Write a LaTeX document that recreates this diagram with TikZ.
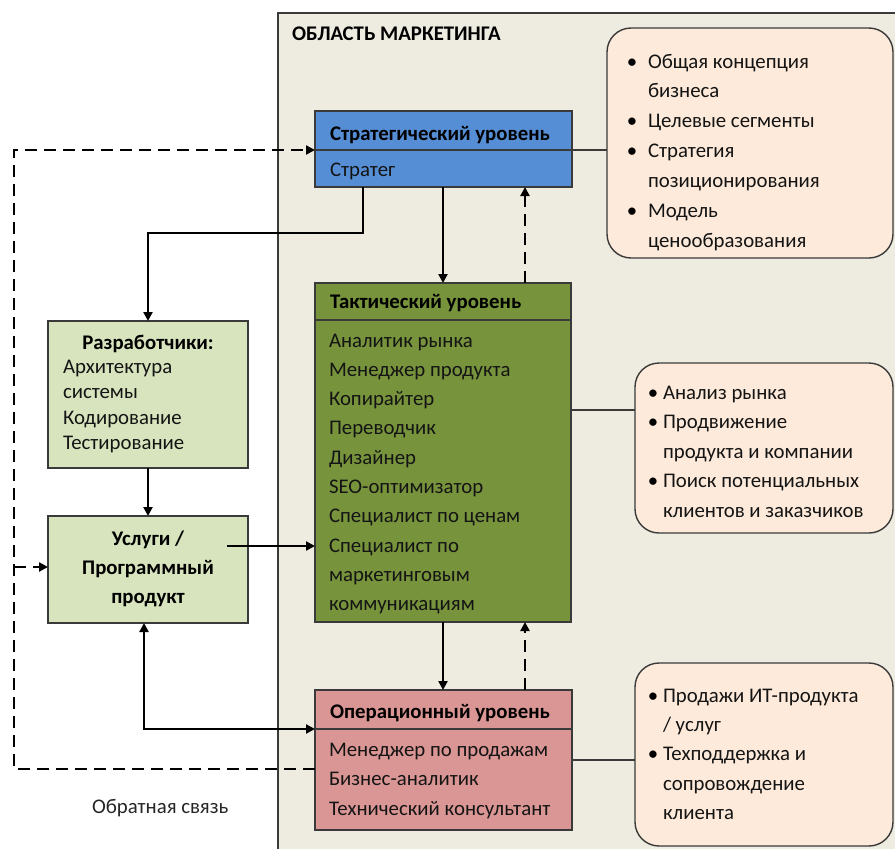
\documentclass[tikz,border=0pt]{standalone}
\usepackage{fontspec}
\setmainfont{Carlito}
\usetikzlibrary{arrows.meta,calc}
\definecolor{areabg}{HTML}{EEECE1}
\definecolor{stratc}{HTML}{558ED5}
\definecolor{tacc}{HTML}{77933C}
\definecolor{opc}{HTML}{DA9694}
\definecolor{devc}{HTML}{D7E4BD}
\definecolor{peach}{HTML}{FDEADA}
\definecolor{edge}{HTML}{3A3A3A}
\begin{document}
\begin{tikzpicture}[x=1pt,y=-1pt,
  every node/.style={inner sep=0pt, outer sep=0pt},
  F/.style={font=\fontsize{20.8}{24}\selectfont},
  FB/.style={font=\fontsize{20.8}{24}\selectfont\bfseries},
  lvl/.style={draw=edge, line width=1.8pt, anchor=north west},
  info/.style={draw=edge, line width=1.4pt, fill=peach, rounded corners=24pt, anchor=north west},
  txt/.style={F, anchor=base west, text=black!92},
  btxt/.style={FB, anchor=base west, text=black},
  bul/.style={F, anchor=base, text=black},
  arr/.style={line width=2.7pt, -{Triangle[length=9pt,width=9pt]}},
  darr/.style={line width=2.7pt, dash pattern=on 12pt off 7pt, -{Triangle[length=9pt,width=9pt]}},
  thin/.style={line width=1.3pt, draw=edge}]
\useasboundingbox (0,0) rectangle (895,849);
\fill[white] (0,0) rectangle (895,849);
% marketing area
\fill[areabg] (278,13) rectangle (895,849);
\draw[line width=1.3pt, draw=edge] (278,849) -- (278,13) -- (895,13);
\node[btxt] (title) at (292,40) {ОБЛАСТЬ МАРКЕТИНГА};

% info boxes
\node[info, minimum width=286pt, minimum height=230pt] (box1) at (607,28) {};
\node[info, minimum width=258pt, minimum height=170pt] (box2) at (635,363) {};
\node[info, minimum width=258pt, minimum height=183pt] (box3) at (635,663) {};

% level boxes
\node[lvl, fill=stratc, minimum width=257pt, minimum height=76pt] (strat) at (315,111) {};
\node[lvl, fill=tacc, minimum width=256pt, minimum height=339pt] (tac) at (315,283) {};
\node[lvl, fill=opc, minimum width=257pt, minimum height=140pt] (op) at (315,690) {};
\node[lvl, fill=devc, minimum width=200pt, minimum height=147pt] (dev) at (48,321) {};
\node[lvl, fill=devc, minimum width=200pt, minimum height=107pt] (serv) at (48,516) {};

% dividers
\coordinate (d1) at (0,150);
\coordinate (d2) at (0,320);
\coordinate (d3) at (0,729);
\draw[thin] (d1 -| strat.west) -- (d1 -| strat.east);
\draw[thin] (d2 -| tac.west) -- (d2 -| tac.east);
\draw[thin] (d3 -| op.west) -- (d3 -| op.east);

% lines to info boxes
\draw[thin] (d1 -| strat.east) -- (d1 -| box1.west);
\coordinate (l2) at (0,410);
\draw[thin] (l2 -| tac.east) -- (l2 -| box2.west);
\coordinate (l3) at (0,760);
\draw[thin] (l3 -| op.east) -- (l3 -| box3.west);

% texts of level boxes
\node[btxt] (st) at (330,140) {Стратегический уровень};
\node[txt] (s1) at (330,176) {Стратег};
\node[btxt] (tt) at (330,308) {Тактический уровень};
\foreach \t [count=\i from 0] in {Аналитик рынка, Менеджер продукта, Копирайтер, Переводчик, Дизайнер, SEO-оптимизатор, Специалист по ценам, Специалист по, маркетинговым, коммуникациям}
  \node[txt] (t\i) at (329,347+\i*29.3) {\t};
\node[btxt] (ot) at (330,718) {Операционный уровень};
\foreach \t [count=\i from 0] in {Менеджер по продажам, Бизнес-аналитик, Технический консультант}
  \node[txt] (o\i) at (329,756+\i*29.5) {\t};

% developers
\node[FB, anchor=base, text=black] (dt) at (148,349) {Разработчики:};
\foreach \t [count=\i from 0] in {Архитектура, системы, Кодирование, Тестирование}
  \node[txt] (dv\i) at (63,373+\i*25.6) {\t};
% services
\foreach \t [count=\i from 0] in {Услуги /, Программный, продукт}
  \node[FB, anchor=base, text=black] (sv\i) at (148,545+\i*29) {\t};

% info box texts
\foreach \t/\b [count=\i from 0] in {Общая концепция/1, бизнеса/0, Целевые сегменты/1, Стратегия/1, позиционирования/0, Модель/1, ценообразования/0}{
  \node[txt] (a\i) at (648,68+\i*29.9) {\t};
  \ifnum\b=1 \node[bul] (ab\i) at (632,68+\i*29.9) {•};\fi
}
\foreach \t/\b [count=\i from 0] in {Анализ рынка/1, Продвижение/1, продукта и компании/0, Поиск потенциальных/1, клиентов и заказчиков/0}{
  \node[txt] (b\i) at (663,399+\i*29.6) {\t};
  \ifnum\b=1 \node[bul] (bb\i) at (653,399+\i*29.6) {•};\fi
}
\foreach \t/\b [count=\i from 0] in {Продажи ИТ-продукта/1, {{/ услуг}}/0, Техподдержка и/1, сопровождение/0, клиента/0}{
  \node[txt] (c\i) at (663,702+\i*29.4) {\t};
  \ifnum\b=1 \node[bul] (cb\i) at (653,702+\i*29.4) {•};\fi
}

\node[F, anchor=base west, text=black!85] (fb) at (92,813) {Обратная связь};

% connectors
\coordinate (k1) at (0,233);
\draw[arr] (strat.south -| 363,0) |- (k1 -| dev.north) -- (dev.north);
\draw[arr] (strat.south -| 443,0) -- (tac.north -| 443,0);
\draw[darr] (tac.north -| 525,0) -- (strat.south -| 525,0);
\draw[arr] (dev.south) -- (serv.north);
\coordinate (k2) at (227,546);
\draw[arr] (k2) -- (k2 -| tac.west);
\draw[arr] (tac.south -| 443,0) -- (op.north -| 443,0);
\draw[darr] (op.north -| 525,0) -- (tac.south -| 525,0);
\draw[line width=2.7pt, {Triangle[length=9pt,width=9pt]}-{Triangle[length=9pt,width=9pt]}] (serv.south -| 144,0) |- (d3 -| op.west);
% feedback
\coordinate (fbL) at (14,769);
\draw[darr] (fbL -| op.west) -- (fbL) -- (fbL |- d1) -- (d1 -| strat.west);
\coordinate (k3) at (14,567);
\draw[darr] (k3) -- (k3 -| serv.west);
\end{tikzpicture}
\end{document}
